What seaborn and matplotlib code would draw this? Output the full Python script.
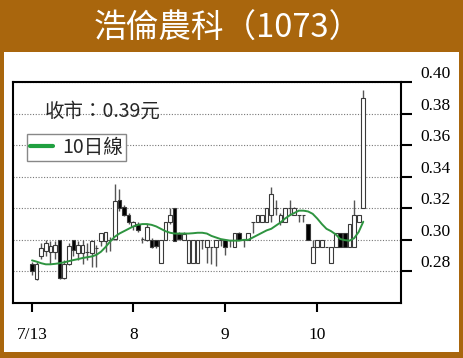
import numpy as np
import pandas as pd
import matplotlib
matplotlib.use("Agg")
import matplotlib.pyplot as plt
from matplotlib.patches import Rectangle
import seaborn as sns

# ─── Data ─────────────────────────────────────────────────────────────────────
opens = [0.2850, 0.2750, 0.2900, 0.2930, 0.2920, 0.2920, 0.3000, 0.2760, 0.2850, 0.3000,
         0.2915, 0.2915, 0.2925, 0.2915, 0.2950, 0.2995, 0.2995, 0.3000, 0.3008, 0.3250,
         0.3210, 0.3160, 0.3090, 0.3100, 0.3005, 0.3000, 0.3000, 0.3000, 0.2855, 0.3000,
         0.3110, 0.3200, 0.3040, 0.3000, 0.2855, 0.2855, 0.2855, 0.3000, 0.2955, 0.2955,
         0.2955, 0.3000, 0.3000, 0.3000, 0.2955, 0.3045, 0.3000, 0.3000, 0.3110, 0.3110,
         0.3110, 0.3110, 0.3155, 0.3200, 0.3110, 0.3110, 0.3200, 0.3160, 0.3160, 0.3160,
         0.3100, 0.2855, 0.2955, 0.2955, 0.2955, 0.2855, 0.2955, 0.3045, 0.3045, 0.2955,
         0.2955, 0.3110, 0.3200]
closes = [0.2805, 0.2850, 0.2950, 0.2980, 0.2960, 0.2970, 0.2760, 0.2850, 0.2960, 0.2935,
          0.2970, 0.2970, 0.2925, 0.2990, 0.2950, 0.3045, 0.3050, 0.3000, 0.3248, 0.3200,
          0.3160, 0.3110, 0.3110, 0.3060, 0.3005, 0.3080, 0.2955, 0.2960, 0.3000, 0.3110,
          0.3160, 0.2995, 0.3005, 0.3040, 0.3000, 0.3000, 0.3000, 0.3000, 0.3000, 0.2955,
          0.3000, 0.3000, 0.2955, 0.3000, 0.3045, 0.3000, 0.3000, 0.3045, 0.3110, 0.3160,
          0.3160, 0.3200, 0.3290, 0.3200, 0.3160, 0.3200, 0.3200, 0.3200, 0.3160, 0.3160,
          0.3000, 0.2955, 0.3000, 0.3000, 0.2955, 0.2955, 0.3045, 0.2955, 0.2955, 0.3100,
          0.3155, 0.3155, 0.3900]
highs = [0.2860, 0.2860, 0.2980, 0.3000, 0.2990, 0.2990, 0.3000, 0.2870, 0.2980, 0.3000,
         0.2990, 0.3000, 0.2980, 0.3000, 0.2970, 0.3045, 0.3050, 0.3020, 0.3355, 0.3320,
         0.3220, 0.3170, 0.3120, 0.3110, 0.3020, 0.3100, 0.3010, 0.3000, 0.3000, 0.3110,
         0.3200, 0.3200, 0.3050, 0.3050, 0.3000, 0.3000, 0.3000, 0.3000, 0.3000, 0.2955,
         0.3000, 0.3000, 0.3000, 0.3000, 0.3045, 0.3050, 0.3000, 0.3045, 0.3110, 0.3160,
         0.3160, 0.3200, 0.3335, 0.3250, 0.3170, 0.3200, 0.3250, 0.3210, 0.3160, 0.3160,
         0.3100, 0.3000, 0.3000, 0.3000, 0.2955, 0.2955, 0.3045, 0.3045, 0.3045, 0.3100,
         0.3250, 0.3160, 0.3950]
lows = [0.2780, 0.2745, 0.2880, 0.2900, 0.2850, 0.2880, 0.2750, 0.2750, 0.2840, 0.2900,
        0.2870, 0.2850, 0.2870, 0.2830, 0.2830, 0.2960, 0.2920, 0.2930, 0.3000, 0.3180,
        0.3150, 0.3100, 0.3060, 0.3050, 0.2980, 0.2990, 0.2950, 0.2950, 0.2855, 0.3000,
        0.3100, 0.2995, 0.3000, 0.3000, 0.2855, 0.2855, 0.2855, 0.2940, 0.2855, 0.2850,
        0.2835, 0.2960, 0.2905, 0.2955, 0.2955, 0.3000, 0.2955, 0.3000, 0.3045, 0.3110,
        0.3110, 0.3110, 0.3110, 0.3160, 0.3095, 0.3110, 0.3160, 0.3160, 0.3110, 0.3110,
        0.3000, 0.2855, 0.2955, 0.2955, 0.2955, 0.2855, 0.2955, 0.2955, 0.2955, 0.2955,
        0.2955, 0.3110, 0.3200]
ma10 = [0.2870, 0.2862, 0.2852, 0.2845, 0.2845, 0.2848, 0.2852, 0.2858, 0.2865, 0.2872,
        0.2878, 0.2885, 0.2890, 0.2895, 0.2905, 0.2925, 0.2955, 0.2990, 0.3020, 0.3040,
        0.3055, 0.3070, 0.3085, 0.3095, 0.3100, 0.3100, 0.3095, 0.3085, 0.3070, 0.3055,
        0.3045, 0.3040, 0.3040, 0.3040, 0.3040, 0.3042, 0.3045, 0.3045, 0.3040, 0.3025,
        0.3015, 0.3005, 0.3000, 0.2995, 0.2995, 0.2995, 0.3000, 0.3000, 0.3015, 0.3030,
        0.3045, 0.3060, 0.3070, 0.3090, 0.3110, 0.3135, 0.3155, 0.3170, 0.3185, 0.3185,
        0.3180, 0.3165, 0.3135, 0.3100, 0.3070, 0.3055, 0.3035, 0.3005, 0.2998, 0.2995,
        0.3010, 0.3050, 0.3115]

month_pos = [0, 22, 42, 62]
month_labels = ["7/13", "8", "9", "10"]
y_ticks = [0.28, 0.30, 0.32, 0.34, 0.36, 0.38, 0.40]

BROWN = "#A9660D"
GREEN = "#2E9440"
SERIF = "Liberation Serif"
CJK = ["Noto Sans CJK TC", "DejaVu Sans"]

# ─── Figure ───────────────────────────────────────────────────────────────────
sns.set_style("white")
plt.rcParams["font.family"] = CJK

df = pd.DataFrame({"o": opens, "c": closes, "h": highs, "l": lows, "ma": ma10})
df["i"] = np.arange(len(df))

W, H = 463, 358
fig = plt.figure(figsize=(W / 100, H / 100), dpi=100, facecolor=BROWN)
fig.patches.append(Rectangle((4 / W, 1 - 352 / H), 455 / W, 300 / H,
                             transform=fig.transFigure, facecolor="white",
                             edgecolor="none", zorder=-1))
fig.text(228 / W, 1 - 29 / H, "浩倫農科（1073）", color="white", fontsize=23.5,
         ha="center", va="center", family=CJK)

ax = fig.add_axes([13 / W, 1 - 303 / H, 388 / W, 221 / H])
ax.set_facecolor("white")

# wicks
ax.vlines(df["i"], df["l"], df["h"], color="#555555", lw=1.0, zorder=2)
# bodies
up = df["c"] >= df["o"]
face = np.where(up, "white", "black")
ax.bar(df["i"], (df["c"] - df["o"]).abs(), bottom=df[["o", "c"]].min(axis=1),
       width=0.8, color=face, edgecolor="#3a3a3a", linewidth=0.8, zorder=3)

sns.lineplot(data=df, x="i", y="ma", ax=ax, color=GREEN, lw=1.4,
             label="10日線", zorder=4)

ax.set_xlim(-4.13, 80.2)
ax.set_ylim(0.26, 0.40)
ax.set_xlabel("")
ax.set_ylabel("")

ax.set_xticks(month_pos)
ax.set_xticklabels(month_labels, family=SERIF, fontsize=12.5)
ax.yaxis.tick_right()
ax.set_yticks(y_ticks)
ax.set_yticklabels([f"{v:.2f}" for v in y_ticks], family=SERIF, fontsize=12.5)
for lab in ax.get_yticklabels():
    lab.set_va("bottom")
ax.tick_params(axis="x", direction="out", length=6.7, width=1.5, pad=10.5,
               bottom=True, colors="black")
ax.tick_params(axis="y", direction="out", length=8, width=1.5, pad=6,
               right=True, left=False, colors="black")

ax.grid(axis="y", linestyle=(0, (1, 1.5)), color="#777777", lw=0.8, zorder=0)
ax.grid(axis="x", visible=False)
for s in ax.spines.values():
    s.set_visible(True)
    s.set_color("black")
    s.set_linewidth(1.5)

ax.text(0.0825, 0.866, "收市：0.39元", transform=ax.transAxes, fontsize=14,
        ha="left", va="center", family=CJK)

leg = ax.legend(loc="upper left", bbox_to_anchor=(0.037, 0.765), fontsize=14,
                frameon=True, fancybox=False, edgecolor="#888888",
                framealpha=1, handlelength=1.15, handletextpad=0.5,
                borderpad=0.15, borderaxespad=0)
leg.get_frame().set_linewidth(1.0)
for h in leg.get_lines():
    h.set_linewidth(3)
    h.set_color("#20A040")

fig.savefig("out.png", dpi=100, facecolor=BROWN)
